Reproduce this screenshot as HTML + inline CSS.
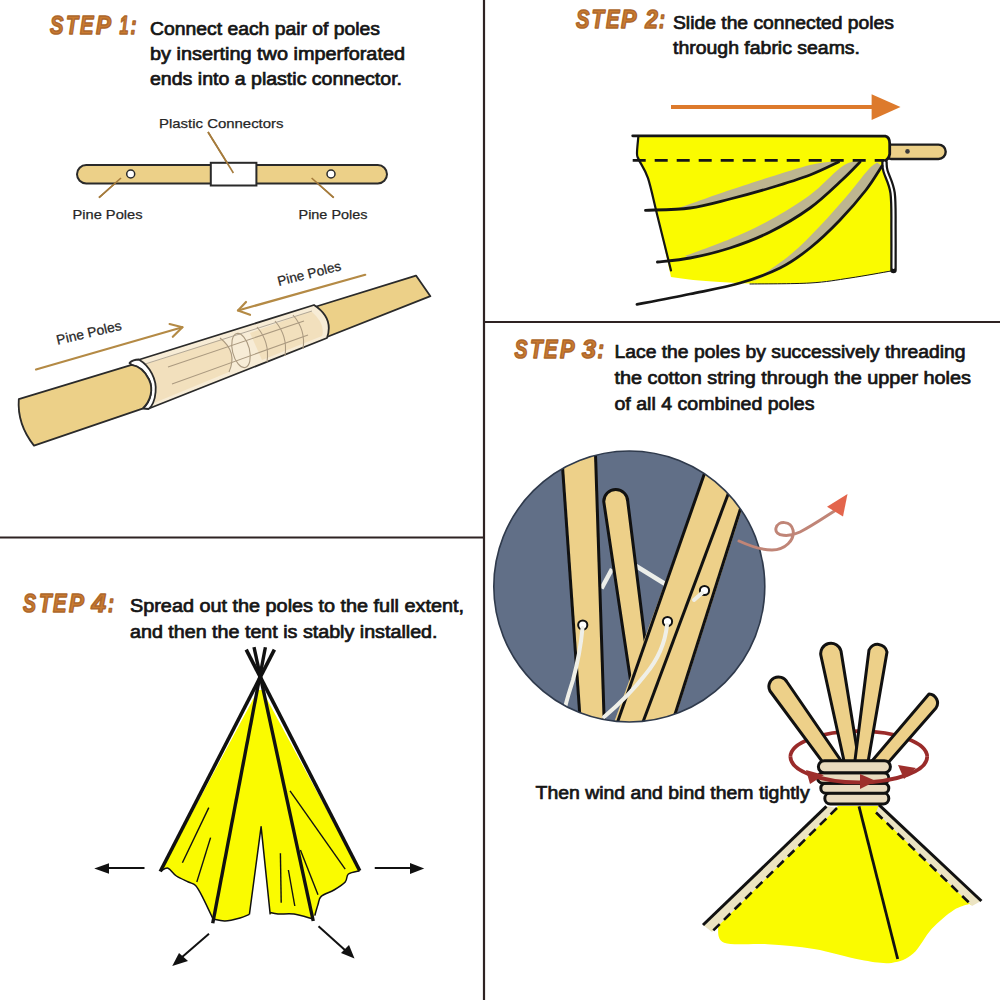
<!DOCTYPE html>
<html><head><meta charset="utf-8">
<style>
html,body{margin:0;padding:0;background:#fff;width:1000px;height:1000px;overflow:hidden}
svg{display:block}
.st{font-family:"Liberation Sans",sans-serif;font-weight:bold;font-style:italic;fill:#c97a30;stroke:#ad672c;stroke-width:1.5;stroke-linejoin:round}
.tx{font-family:"Liberation Sans",sans-serif;fill:#151515;stroke:#151515;stroke-width:0.7}
.lb{font-family:"Liberation Sans",sans-serif;fill:#262626;stroke:#262626;stroke-width:0.25}
</style></head><body>
<svg width="1000" height="1000" viewBox="0 0 1000 1000">
<rect width="1000" height="1000" fill="#fff"/>
<!-- dividers -->
<g stroke="#2e2323" stroke-width="2.2">
<line x1="484" y1="0" x2="484" y2="1000"/>
<line x1="0" y1="537.5" x2="484" y2="537.5"/>
<line x1="484" y1="322" x2="1000" y2="322"/>
</g>

<!-- STEP labels -->
<text class="st" font-size="26" transform="translate(50.00 33.8) scale(0.778 1)">S</text>
<text class="st" font-size="26" transform="translate(66.00 33.8) scale(0.761 1)">T</text>
<text class="st" font-size="26" transform="translate(80.00 33.8) scale(0.778 1)">E</text>
<text class="st" font-size="26" transform="translate(96.00 33.8) scale(0.862 1)">P</text>
<text class="st" font-size="26" transform="translate(119.50 33.8) scale(0.623 1)">1</text>
<text class="st" font-size="26" transform="translate(130.50 33.8) scale(0.693 1)">:</text>
<text class="st" font-size="26" transform="translate(576.00 27.8) scale(0.778 1)">S</text>
<text class="st" font-size="26" transform="translate(591.50 27.8) scale(0.790 1)">T</text>
<text class="st" font-size="26" transform="translate(606.00 27.8) scale(0.778 1)">E</text>
<text class="st" font-size="26" transform="translate(621.00 27.8) scale(0.891 1)">P</text>
<text class="st" font-size="26" transform="translate(645.36 27.8) scale(0.874 1)">2</text>
<text class="st" font-size="26" transform="translate(659.00 27.8) scale(0.693 1)">:</text>
<text class="st" font-size="26" transform="translate(514.50 357.8) scale(0.750 1)">S</text>
<text class="st" font-size="26" transform="translate(530.00 357.8) scale(0.790 1)">T</text>
<text class="st" font-size="26" transform="translate(544.00 357.8) scale(0.778 1)">E</text>
<text class="st" font-size="26" transform="translate(560.00 357.8) scale(0.834 1)">P</text>
<text class="st" font-size="26" transform="translate(582.00 357.8) scale(0.968 1)">3</text>
<text class="st" font-size="26" transform="translate(597.50 357.8) scale(0.751 1)">:</text>
<text class="st" font-size="26" transform="translate(23.00 611.8) scale(0.750 1)">S</text>
<text class="st" font-size="26" transform="translate(39.00 611.8) scale(0.790 1)">T</text>
<text class="st" font-size="26" transform="translate(53.00 611.8) scale(0.778 1)">E</text>
<text class="st" font-size="26" transform="translate(69.00 611.8) scale(0.862 1)">P</text>
<text class="st" font-size="26" transform="translate(91.45 611.8) scale(1.007 1)">4</text>
<text class="st" font-size="26" transform="translate(108.00 611.8) scale(0.693 1)">:</text>
<!-- STEP 1 text -->
<text class="tx" x="150" y="35" font-size="18" textLength="230" lengthAdjust="spacingAndGlyphs">Connect each pair of poles</text>
<text class="tx" x="150" y="60" font-size="18" textLength="255" lengthAdjust="spacingAndGlyphs">by inserting two imperforated</text>
<text class="tx" x="150" y="85" font-size="18" textLength="252" lengthAdjust="spacingAndGlyphs">ends into a plastic connector.</text>

<!-- STEP 2 text -->
<text class="tx" x="673" y="29" font-size="18" textLength="221" lengthAdjust="spacingAndGlyphs">Slide the connected poles</text>
<text class="tx" x="673" y="54" font-size="18" textLength="187" lengthAdjust="spacingAndGlyphs">through fabric seams.</text>

<!-- STEP 3 text -->
<text class="tx" x="614.5" y="358" font-size="18" textLength="351" lengthAdjust="spacingAndGlyphs">Lace the poles by successively threading</text>
<text class="tx" x="614.5" y="384" font-size="18" textLength="356.5" lengthAdjust="spacingAndGlyphs">the cotton string through the upper holes</text>
<text class="tx" x="614.5" y="409.5" font-size="18" textLength="200" lengthAdjust="spacingAndGlyphs">of all 4 combined poles</text>

<!-- STEP 4 text -->
<text class="tx" x="130" y="612" font-size="18" textLength="334" lengthAdjust="spacingAndGlyphs">Spread out the poles to the full extent,</text>
<text class="tx" x="130" y="637.5" font-size="18" textLength="307.5" lengthAdjust="spacingAndGlyphs">and then the tent is stably installed.</text>

<text class="tx" x="535.6" y="799" font-size="18" textLength="274" lengthAdjust="spacingAndGlyphs">Then wind and bind them tightly</text>

<!-- labels -->
<text class="lb" x="159" y="128" font-size="13.5" textLength="124.5" lengthAdjust="spacingAndGlyphs">Plastic Connectors</text>
<text class="lb" x="72.5" y="218.5" font-size="13.5" textLength="70" lengthAdjust="spacingAndGlyphs">Pine Poles</text>
<text class="lb" x="298.5" y="218.5" font-size="13.5" textLength="69" lengthAdjust="spacingAndGlyphs">Pine Poles</text>
<text class="lb" x="0" y="0" font-size="13.5" textLength="66.5" lengthAdjust="spacingAndGlyphs" transform="translate(57.6 344.8) rotate(-13.2)">Pine Poles</text>
<text class="lb" x="0" y="0" font-size="13.5" textLength="65" lengthAdjust="spacingAndGlyphs" transform="translate(278.8 286) rotate(-14.2)">Pine Poles</text>

<!--ART-->
<!-- STEP 1 ART: horizontal pole -->
<g stroke="#a57b3c" stroke-width="1.6" fill="none">
<line x1="208" y1="132" x2="233.4" y2="173"/>
<line x1="121" y1="178" x2="99" y2="197.7"/>
<line x1="311.6" y1="178" x2="333.7" y2="197.7"/>
</g>
<rect x="77" y="165" width="310" height="18.5" rx="9.2" fill="#ecd088" stroke="#2a2a2a" stroke-width="2"/>
<rect x="210.8" y="162.8" width="45.6" height="22.7" fill="#fff" stroke="#2a2a2a" stroke-width="2"/>
<line x1="208" y1="132" x2="233.4" y2="173" stroke="#a57b3c" stroke-width="1.6"/>
<line x1="121" y1="178" x2="99" y2="197.7" stroke="#a57b3c" stroke-width="1.6"/>
<line x1="311.6" y1="178" x2="333.7" y2="197.7" stroke="#a57b3c" stroke-width="1.6"/>
<circle cx="130.7" cy="174" r="4" fill="#fff" stroke="#2a2a2a" stroke-width="1.5"/>
<circle cx="331" cy="174" r="4" fill="#fff" stroke="#2a2a2a" stroke-width="1.5"/>

<!-- STEP 1 ART: diagonal pole -->
<g stroke="#b48a45" stroke-width="2.2" fill="none" stroke-linecap="round" stroke-linejoin="round">
<line x1="36" y1="369.5" x2="182.4" y2="327.2"/>
<polyline points="169.6,324 182.4,327.2 172.8,336.8"/>
<line x1="365.2" y1="274.8" x2="238" y2="310.5"/>
<polyline points="246,302 238,310.5 250,314.8"/>
</g>
<!-- right pole -->
<path d="M305,310 L416,275.6 L430.4,296.2 L318,340.5 Z" fill="#ecd088" stroke="#2a2a2a" stroke-width="1.8" stroke-linejoin="round"/>
<!-- tube -->
<path d="M138,360 L314,305 Q334,318 327,338 L149,408.5 Q160,384 138,360 Z" fill="#f7ecd6" stroke="#2a2a2a" stroke-width="1.8" stroke-linejoin="round"/>
<path d="M146,364 L222,339 Q238,354 229,372 L154,403 Q162,384 146,364 Z" fill="#f2e0bd"/>
<path d="M250,333 L311,311 Q326,324 322,336 L262,360 Z" fill="#f2e0bd"/>
<path d="M142,365 L312,311" stroke="#a0978a" stroke-width="0.8" fill="none"/>
<g stroke="#ab9a80" stroke-width="1.1" fill="none">
<path d="M220,338 Q238,352 229,372"/>
<ellipse cx="241" cy="350.5" rx="8.5" ry="17.5" transform="rotate(-14 241 350.5)"/>
<line x1="168" y1="367" x2="304" y2="321"/>
<line x1="172" y1="384" x2="308" y2="335"/>
<path d="M257,327 Q270,342 267,362"/>
<path d="M275,321 Q288,336 285,356"/>
<path d="M293,315 Q306,330 303,349"/>
</g>
<!-- collar ring -->
<path d="M129.5,363 Q133,359.5 138.8,359.5 C150,366 157,380 155.6,392 C155,400 152,407 148.5,409 L143,408.5 C151,401 153.5,389 149,379.5 C145,371 139,366 131.6,364.8 Z" fill="#fff" stroke="#2a2a2a" stroke-width="1.8" stroke-linejoin="round"/>
<!-- left pole -->
<path d="M18.8,399.2 Q17,424 34,445.6 L142.5,408.6 C151,401 153.5,389 149,379.5 C145,371 139,366 131.6,364.8 Z" fill="#ecd088" stroke="#2a2a2a" stroke-width="1.8" stroke-linejoin="round"/>
<!-- STEP 2 ART -->
<line x1="671" y1="107" x2="873" y2="107" stroke="#dd7a2c" stroke-width="4"/>
<path d="M871.6,94.3 L900.5,107 L871.6,120.1 Z" fill="#dd7a2c"/>
<rect x="884" y="144.6" width="61.7" height="14.4" rx="7.2" fill="#ecd088" stroke="#1e1e1e" stroke-width="2.4"/>
<circle cx="907.5" cy="151.4" r="2.3" fill="#3a3a3a"/>
<path d="M638,136 L885.4,136.1 Q889.7,137 889.7,143.8 L889.7,154 Q889,159 884,161.5 L886,171 L891,190 L891.4,230 L891.4,271 C870,275 850,279 810,283 C780,285 750,284 720,282 C700,281 685,279 671,277 L657.2,215 L648,178.2 L639,160 L637,153.7 Z" fill="#fafb00"/>
<g fill="#bdb590">
<path d="M676.0,209.0 C685.0,205.8 714.3,195.3 730.0,190.0 C745.7,184.7 756.7,181.2 770.0,177.0 C783.3,172.8 799.7,167.6 810.0,165.0 C820.3,162.4 828.3,162.1 832.0,161.5 L838.5,162.0 C833.8,164.2 821.4,170.7 810.0,175.0 C798.6,179.3 783.3,184.0 770.0,188.0 C756.7,192.0 744.8,195.6 730.0,199.0 C715.2,202.4 689.2,207.0 681.0,208.6 Z"/>
<path d="M685.0,256.0 C692.5,253.2 715.8,245.0 730.0,239.0 C744.2,233.0 756.7,227.3 770.0,220.0 C783.3,212.7 798.3,203.7 810.0,195.0 C821.7,186.3 832.8,173.6 840.0,168.0 C847.2,162.4 850.8,162.6 853.0,161.5 L860.0,162.0 C857.0,165.0 850.3,172.3 842.0,180.0 C833.7,187.7 822.0,199.3 810.0,208.0 C798.0,216.7 783.3,225.3 770.0,232.0 C756.7,238.7 743.3,243.7 730.0,248.0 C716.7,252.3 696.7,256.3 690.0,258.0 Z"/>
<path d="M752.0,282.0 C758.3,277.5 778.7,264.3 790.0,255.0 C801.3,245.7 810.7,235.7 820.0,226.0 C829.3,216.3 838.0,206.3 846.0,197.0 C854.0,187.7 862.8,175.8 868.0,170.0 C873.2,164.2 875.5,163.8 877.0,162.5 L882.0,166.0 C879.3,170.0 873.0,181.0 866.0,190.0 C859.0,199.0 849.3,210.3 840.0,220.0 C830.7,229.7 820.0,240.0 810.0,248.0 C800.0,256.0 789.0,262.7 780.0,268.0 C771.0,273.3 760.0,278.0 756.0,280.0 Z"/>
</g>
<g stroke="#161616" fill="none" stroke-linecap="round" stroke-linejoin="round">
<path d="M632.7,135.8 L885.4,136.1 Q889.7,137 889.7,143.8 L889.7,154 Q889,159 884,161.5" stroke-width="2.8"/>
<line x1="632.7" y1="160.4" x2="884" y2="160.4" stroke-width="2.9" stroke-dasharray="13 9" stroke-linecap="butt"/>
<path d="M638.3,137.0 C638.1,139.8 636.9,149.9 637.0,153.7 C637.1,157.5 637.2,155.9 639.0,160.0 C640.8,164.1 645.0,169.0 648.0,178.2 C651.0,187.4 653.4,199.6 657.2,215.0 C661.0,230.4 668.7,261.2 671.0,270.4" stroke-width="2.2"/>
<path d="M884.5,162.5 C884.7,163.9 884.1,165.9 885.5,171.0 C886.9,176.1 891.3,183.2 892.6,193.0 C893.9,202.8 893.4,217.2 893.5,230.0 C893.6,242.8 893.5,263.3 893.5,270.0" stroke-width="6.5"/>
<path d="M884.5,162.5 C884.7,163.9 884.1,165.9 885.5,171.0 C886.9,176.1 891.3,183.2 892.6,193.0 C893.9,202.8 893.4,217.5 893.5,230.0 C893.6,242.5 893.5,261.7 893.5,268.0" stroke-width="2" stroke="#fff"/>
<path d="M645.5,210.3 C652.9,209.9 675.9,209.9 690.0,208.0 C704.1,206.1 716.7,202.3 730.0,199.0 C743.3,195.7 756.7,192.0 770.0,188.0 C783.3,184.0 798.6,179.3 810.0,175.0 C821.4,170.7 833.8,164.2 838.5,162.0" stroke-width="2.8"/>
<path d="M657.4,262.0 C662.8,261.3 677.9,260.3 690.0,258.0 C702.1,255.7 716.7,252.3 730.0,248.0 C743.3,243.7 756.7,238.7 770.0,232.0 C783.3,225.3 798.0,216.7 810.0,208.0 C822.0,199.3 833.7,187.7 842.0,180.0 C850.3,172.3 857.0,165.0 860.0,162.0" stroke-width="2.8"/>
<path d="M637.0,304.4 C645.8,302.7 672.8,297.6 690.0,294.0 C707.2,290.4 725.0,287.3 740.0,283.0 C755.0,278.7 768.3,273.8 780.0,268.0 C791.7,262.2 800.0,256.0 810.0,248.0 C820.0,240.0 830.7,229.7 840.0,220.0 C849.3,210.3 859.0,199.0 866.0,190.0 C873.0,181.0 879.3,170.0 882.0,166.0" stroke-width="2.8"/>
<path d="M750.0,284.0 C760.0,283.8 793.3,284.0 810.0,283.0 C826.7,282.0 836.5,280.0 850.0,278.0 C863.5,276.0 884.2,272.2 891.0,271.0" stroke-width="1"/>
</g>
<!-- STEP 3 ART -->
<defs><clipPath id="cc"><circle cx="629.3" cy="586.5" r="135.5"/></clipPath></defs>
<circle cx="629.3" cy="586.5" r="135.5" fill="#616f87"/>
<g clip-path="url(#cc)">
<!-- strings behind B -->
<path d="M601.5,588.5 L612,569" stroke="#eceeea" stroke-width="4.5" fill="none"/>
<path d="M636,566 L666,584.5" stroke="#eceeea" stroke-width="4.5" fill="none"/>
<!-- Pole A -->
<path d="M561,448 L595,448 L604,730 L581,730 Z" fill="#edd089"/>
<line x1="561.5" y1="452" x2="580.5" y2="725" stroke="#111" stroke-width="3"/>
<line x1="595.3" y1="448" x2="604.3" y2="725" stroke="#111" stroke-width="3"/>
<!-- Pole B -->
<path d="M603.75,501.5 A12,12 0 0 1 627.75,501.5 L650,680 L632,690 Z" fill="#edd089" stroke="#111" stroke-width="3" stroke-linejoin="round"/>
<!-- Pole C + D -->
<path d="M709,462 L735,477 L749,487 L672,728 L612,728 Z" fill="#edd089"/>
<line x1="708.5" y1="462" x2="613" y2="735" stroke="#111" stroke-width="3"/>
<line x1="736" y1="473" x2="640" y2="730" stroke="#111" stroke-width="3"/>
<line x1="749" y1="482" x2="670" y2="730" stroke="#111" stroke-width="3"/>
<!-- holes -->
<circle cx="582.75" cy="625" r="4.6" fill="#fff" stroke="#111" stroke-width="2"/>
<circle cx="667.5" cy="621.5" r="4.6" fill="#fff" stroke="#111" stroke-width="2"/>
<circle cx="704.5" cy="590.5" r="4.6" fill="#fff" stroke="#111" stroke-width="2"/>
<!-- strings front -->
<g stroke="#efefe8" stroke-width="4" fill="none" stroke-linecap="round">
<path d="M582.5,628 C581,645 577,665 573,680 C570,690 567,698 564,712"/>
<path d="M667,625 C665,645 656,662 645,675 C632,692 618,705 604,717"/>
<path d="M702,593 L694,600"/>
</g>
</g>
<circle cx="629.3" cy="586.5" r="135.5" fill="none" stroke="#2f3a4c" stroke-width="1.6"/>
<!-- curly arrow -->
<path d="M739,541 C750,546 760,550 772,550 C785,550 795,540 793,530 C791,521 778,520 776,528 C774,537 790,537 800,532 C812,526 825,517 836,510" stroke="#c08577" stroke-width="3" fill="none" stroke-linecap="round"/>
<path d="M847.5,494 L827,506.75 L843,516.5 Z" fill="#e3654c"/>

<!-- red ellipse back half -->
<path d="M790.4,756.8 A68.4,25.6 0 0 1 927.2,756.8" fill="none" stroke="#9a2b2a" stroke-width="3.8"/>
<!-- tied poles -->
<g fill="#edd089" stroke="#111" stroke-width="3" stroke-linejoin="round">
<path d="M770,691 A9,9 0 0 1 787,682 L846,768 L830,772 Z"/>
<path d="M929,694 A9,9 0 0 1 936,708 L880,772 L866,768 Z"/>
<path d="M821,656 A10,10 0 0 1 841,651 L860,768 L846,770 Z"/>
<path d="M869,650 A9.5,9.5 0 0 1 887,652 L867,768 L854,768 Z"/>
</g>

<!-- step3 tent -->
<path d="M838,806 L878,806 L972,905 L969,904 C966.4,905.0 959.7,906.1 953.5,910.2 C947.3,914.3 938.5,921.6 931.8,928.8 C925.1,936.0 919.9,947.9 913.2,953.6 C906.5,959.3 900.3,961.9 891.5,962.9 C882.7,963.9 873.4,962.1 860.5,959.8 C847.6,957.5 829.5,951.6 814.0,949.0 C798.5,946.4 782.5,945.3 767.5,944.3 C752.5,943.2 732.4,945.8 724.1,942.7 C715.8,939.6 718.9,928.5 717.9,925.7 L711.7,932 Z" fill="#fafb00"/>
<path d="M826,806 L703,925 L712,932 L837,808 Z" fill="#ece4c2"/>
<path d="M879,805 L981,901 L972,906 L876,812 Z" fill="#ece4c2"/>
<g stroke="#111" fill="none">
<line x1="826.4" y1="806.3" x2="703" y2="925" stroke-width="3"/>
<line x1="837" y1="808" x2="711.7" y2="932" stroke-width="2.6" stroke-dasharray="9 6"/>
<line x1="879" y1="804.8" x2="981.4" y2="901" stroke-width="3"/>
<line x1="876" y1="812.5" x2="972" y2="905.5" stroke-width="2.6" stroke-dasharray="9 6"/>
<line x1="859" y1="806.3" x2="897.7" y2="959" stroke-width="2.8"/>
</g>
<!-- binding -->
<g fill="#e9dbbf" stroke="#111" stroke-width="3">
<rect x="824.8" y="792.8" width="64" height="11.2" rx="5.6"/>
<rect x="820.8" y="783.2" width="68" height="10" rx="5"/>
<rect x="817.6" y="772.8" width="71.2" height="10.4" rx="5.2"/>
<rect x="818.4" y="760.8" width="72" height="12" rx="6"/>
</g>
<!-- red ellipse front half -->
<path d="M790.4,756.8 A68.4,25.6 0 0 0 927.2,756.8" fill="none" stroke="#9a2b2a" stroke-width="3.8"/>
<g fill="#9e2f2c">
<path d="M806,770 L824,775 L810,784 Z"/>
<path d="M860,774 L876,781 L860,789 Z"/>
<path d="M898,765 L916,768 L904,779 Z"/>
</g>
<!-- STEP 4 ART -->
<path d="M258,690 L161,871 C162.2,870.5 165.4,867.4 168.0,868.2 C170.6,869.0 173.0,873.7 176.4,876.0 C179.8,878.3 185.2,880.4 188.4,882.0 C191.6,883.6 193.2,883.0 195.6,885.6 C198.0,888.2 199.9,892.0 202.8,897.6 C205.7,903.2 211.3,915.4 213.0,919.0 C215.0,919.3 220.5,921.2 225.0,921.0 C229.5,920.8 235.9,919.1 240.0,918.0 C244.1,916.9 247.8,915.0 249.4,914.4 L261.1,826.7 L270.2,914.4 C271.5,912.7 274.0,913.7 278.0,914.0 C282.0,914.3 288.2,913.2 294.0,914.0 C299.8,914.8 309.8,918.2 313.0,919.0 C315.3,913.7 316.9,907.6 318.0,904.4 C319.1,901.2 318.5,898.8 321.2,896.4 C323.9,894.0 330.0,892.4 334.0,890.0 C338.0,887.6 342.8,884.7 345.2,882.0 C347.6,879.3 346.0,875.9 348.4,874.0 C350.8,872.1 357.7,871.3 359.6,870.8 L262,690 Z" fill="#fafb00"/>
<g stroke="#111" fill="none" stroke-linecap="butt">
<line x1="274.4" y1="649.6" x2="160.25" y2="871.5" stroke-width="3.6"/>
<line x1="246.2" y1="649.6" x2="359.75" y2="870.75" stroke-width="3.6"/>
<line x1="265.4" y1="647.2" x2="212.75" y2="923.25" stroke-width="3.4"/>
<line x1="254" y1="647.2" x2="313.25" y2="921" stroke-width="3.4"/>
<g stroke-width="1.5" stroke-linejoin="round">
<path d="M161.0,871.0 C162.2,870.5 165.4,867.4 168.0,868.2 C170.6,869.0 173.0,873.7 176.4,876.0 C179.8,878.3 185.2,880.4 188.4,882.0 C191.6,883.6 193.2,883.0 195.6,885.6 C198.0,888.2 199.9,892.0 202.8,897.6 C205.7,903.2 211.3,915.4 213.0,919.0"/>
<path d="M213.0,919.0 C215.0,919.3 220.5,921.2 225.0,921.0 C229.5,920.8 235.9,919.1 240.0,918.0 C244.1,916.9 247.8,915.0 249.4,914.4"/>
<path d="M270.2,912.4 C271.5,912.7 274.0,913.7 278.0,914.0 C282.0,914.3 288.2,913.2 294.0,914.0 C299.8,914.8 309.8,918.2 313.0,919.0"/>
<path d="M314.8,915.6 C315.3,913.7 316.9,907.6 318.0,904.4 C319.1,901.2 318.5,898.8 321.2,896.4 C323.9,894.0 330.0,892.4 334.0,890.0 C338.0,887.6 342.8,884.7 345.2,882.0 C347.6,879.3 346.0,875.9 348.4,874.0 C350.8,872.1 357.7,871.3 359.6,870.8"/>
<path d="M249.4,914.4 L261.1,826.7 L270.2,914.4"/>
</g>
<g stroke-width="1.4">
<path d="M208.8,807.6 L182.4,862.8"/>
<path d="M210.6,837.6 L196.8,882"/>
<path d="M280.4,853.2 L281.2,902.8"/>
<path d="M288.4,870 L294.8,906"/>
<path d="M300.4,850 L318,894.8"/>
<path d="M290,790.8 L345.2,869.2"/>
</g>
</g>
<g stroke="#111" stroke-width="2" fill="#111">
<line x1="144.5" y1="868" x2="105" y2="868"/>
<path d="M94.25,868.5 L109,863.25 L109,873.75 Z" stroke="none"/>
<line x1="374.75" y1="868" x2="414" y2="868"/>
<path d="M424.25,868.5 L410,863 L410,874 Z" stroke="none"/>
<line x1="209" y1="933.75" x2="181" y2="958"/>
<path d="M172.25,966 L179,953 L188,961 Z" stroke="none"/>
<line x1="318.5" y1="926.25" x2="346" y2="951"/>
<path d="M354.5,958.5 L341,953 L349,945 Z" stroke="none"/>
</g>

</svg>
</body></html>
